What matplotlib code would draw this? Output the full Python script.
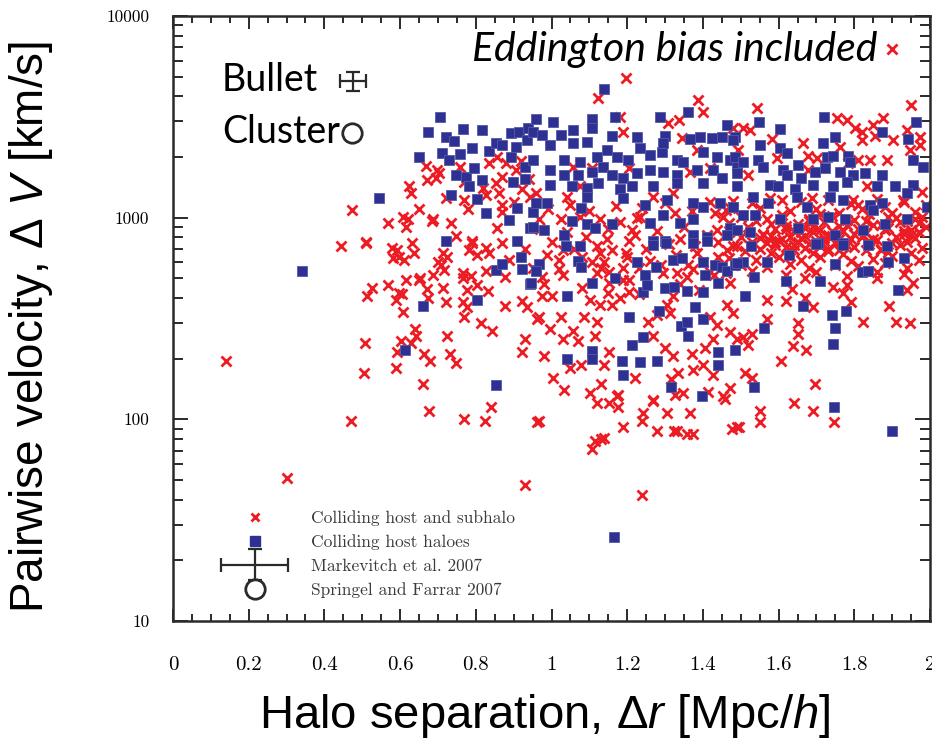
import numpy as np
import matplotlib
matplotlib.use("Agg")
import matplotlib.pyplot as plt
from matplotlib.lines import Line2D
from matplotlib.legend_handler import HandlerErrorbar

plt.rcParams["mathtext.fontset"] = "custom"
plt.rcParams["mathtext.rm"] = "Liberation Sans"
plt.rcParams["mathtext.it"] = "Liberation Sans:italic"

# colliding host and subhalo pairs: separation [Mpc/h], pairwise velocity [km/s]
sub_sep = [
    0.14, 0.30, 0.47, 0.93, 1.238, 1.90,
    0.669, 0.698, 0.672, 0.696, 0.624, 0.630, 0.474, 0.569, 0.608, 0.622,
    0.616, 0.511, 0.444, 0.632, 0.685, 0.735, 0.749, 0.791, 0.857, 0.868,
    0.870, 0.862, 0.870, 0.857, 0.836, 0.854, 0.828, 0.770, 0.923, 0.942,
    0.920, 0.880, 0.907, 0.757,
    0.510, 0.580, 0.611, 0.638, 0.593, 0.526, 0.513, 0.569, 0.606, 0.590,
    0.608, 0.653, 0.672, 0.688, 0.709, 0.714, 0.722, 0.675, 0.640, 0.643,
    0.630, 0.603, 0.593, 0.590, 0.508, 0.505, 0.664, 0.680, 0.725, 0.733,
    0.749, 0.661, 0.677, 0.770, 0.823, 0.839, 0.765, 0.788, 0.804, 0.828,
    0.831, 0.765, 0.770, 0.778, 0.815, 0.844, 0.876, 0.923, 0.934, 0.929,
    0.923, 0.963, 0.836, 0.804, 0.876, 0.889, 0.791, 0.870, 0.725, 0.963,
    0.688, 0.704, 0.828, 0.579, 0.598, 0.714, 0.701, 0.717, 0.616, 0.598,
    0.651, 0.765, 0.778, 0.783,
    1.198, 1.124, 1.386, 1.399, 1.336, 1.307, 1.180, 1.188, 1.344, 1.384,
    1.056, 1.106, 1.206, 1.365, 1.418, 0.960, 1.042, 1.074, 1.267, 1.320,
    1.026, 1.074, 1.127, 1.225, 1.325, 1.431, 1.471, 0.968, 1.146, 1.206,
    1.214, 1.233, 1.339, 1.437, 1.452, 1.489,
    1.542, 1.950, 1.754, 1.780, 1.802, 1.820, 1.820, 1.849, 1.876, 1.854,
    1.902, 1.939, 1.974, 1.974, 1.947, 1.505, 1.524, 1.582, 1.664, 1.677,
    1.762, 1.783, 1.841, 1.886, 1.810, 1.492, 1.519, 1.595, 1.677, 1.701,
    1.577, 1.688, 1.833, 1.796, 1.929, 1.979, 1.479,
    0.974, 1.000, 0.968, 0.995, 1.030, 1.026, 1.056, 1.069, 1.087, 1.101,
    1.119, 1.127, 1.148, 1.161, 1.114, 1.153, 1.140, 1.079, 1.048, 0.979,
    1.003, 1.034, 1.101, 1.132, 1.119, 1.153, 1.175, 1.175, 1.220, 1.267,
    1.241, 1.238, 1.304, 1.365, 1.278, 1.331, 1.357, 1.373, 0.968, 1.188,
    1.140, 1.471, 1.452, 1.476, 1.426, 1.399, 1.373, 1.333, 1.347, 1.320,
    1.299, 1.267, 1.254, 1.278, 1.312, 1.320, 1.304, 1.370, 1.405, 1.426,
    1.437, 1.418, 1.471, 1.479, 1.463, 1.206, 1.180, 1.206, 1.153, 1.108,
    1.127, 1.161, 1.198, 1.188, 0.976, 1.021, 0.989, 1.030, 1.153, 1.357,
    1.373, 1.384, 1.463, 1.471, 1.331, 1.294,
    1.108, 1.114, 1.132, 1.495, 1.550, 1.550, 1.640, 1.690, 1.746, 1.695,
    1.606, 1.672, 1.638, 1.823, 1.910, 1.947, 1.892, 1.458, 1.511, 1.413,
    1.325, 1.267, 1.172, 1.317, 1.323,
    1.570, 1.620, 1.670, 1.690, 1.570, 1.650, 1.650, 1.530, 1.490, 1.940,
    1.955, 1.860, 1.790, 1.770, 1.780, 1.745, 1.635, 1.505, 1.530, 1.490,
    1.520, 1.670,
    1.48, 1.53, 1.61, 1.66, 1.73, 1.79, 1.86, 1.93, 1.99, 1.46,
    1.55, 1.63, 1.70, 1.76, 1.82, 1.88, 1.96, 1.50, 1.57, 1.61,
    1.68, 1.74, 1.78, 1.84, 1.91, 1.94, 1.98, 1.47, 1.54, 1.65,
    1.72, 1.80, 1.87, 1.92, 1.97, 1.52, 1.59, 1.62, 1.67, 1.71,
    1.76, 1.81, 1.85, 1.89, 1.95, 1.99, 1.49, 1.56, 1.64, 1.69,
    1.73, 1.77, 1.83, 1.88, 1.93, 1.97, 1.50, 1.55, 1.58, 1.61,
    1.63, 1.66, 1.70, 1.74, 1.79, 1.82, 1.86, 1.91, 1.96, 1.53,
    1.57, 1.60, 1.65, 1.68, 1.72, 1.75, 1.78, 1.84, 1.90, 1.94,
    1.48, 1.55, 1.59, 1.62, 1.67, 1.71, 1.76, 1.80, 1.87, 1.92,
    1.98, 1.51, 1.58, 1.64, 1.69, 1.73, 1.77, 1.83, 1.89, 1.95,
    1.47, 1.54, 1.60, 1.66, 1.71, 1.79, 1.85, 1.90, 1.97, 1.50,
    1.57, 1.63, 1.68, 1.75, 1.81, 1.88, 1.94, 1.46, 1.53, 1.62,
    1.70, 1.78, 1.86, 1.93,
    1.56, 1.59, 1.62, 1.64, 1.67, 1.69, 1.72, 1.74, 1.77, 1.80,
    1.83, 1.85, 1.88, 1.90, 1.93, 1.96, 1.58, 1.63, 1.68, 1.73,
    1.78, 1.84, 1.89, 1.95, 1.61, 1.66, 1.71, 1.76, 1.81, 1.87,
    0.97, 1.00, 1.04, 1.06, 1.09, 1.12, 1.15, 1.18, 1.22, 1.25,
    1.28, 1.31, 1.35, 1.38, 1.41, 1.44, 0.99, 1.05, 1.10, 1.17,
    1.24, 1.30, 1.37, 1.42, 1.02, 1.08, 1.14, 1.20, 1.26, 1.33,
    1.40, 1.44, 0.93, 0.95, 1.12, 1.23, 1.36, 1.42,
    0.98, 1.03, 1.08, 1.13, 1.19, 1.23, 1.29, 1.34, 1.39, 1.43,
    0.65, 0.72, 0.78, 0.82, 0.90, 0.94, 0.77,
]
sub_vel = [
    194, 51, 98, 47, 42, 6860,
    1800, 1730, 1540, 1570, 1430, 1330, 1090, 940, 1010, 980,
    900, 760, 720, 750, 960, 940, 810, 770, 890, 1070,
    1160, 1330, 1600, 2000, 1870, 1490, 1300, 1230, 1380, 1270,
    1920, 1870, 1730, 1790,
    750, 630, 620, 670, 690, 450, 410, 465, 420, 390,
    340, 500, 445, 520, 580, 450, 380, 400, 280, 260,
    240, 245, 215, 180, 240, 170, 210, 195, 260, 210,
    190, 150, 110, 100, 98, 115, 500, 515, 465, 545,
    435, 380, 320, 360, 300, 275, 365, 385, 360, 250,
    215, 315, 670, 655, 510, 620, 745, 750, 640, 97,
    990, 1670, 710, 710, 640, 670, 600, 550, 490, 425,
    490, 530, 440, 690,
    4930, 3930, 3830, 3350, 3050, 2950, 3160, 2670, 2470, 2170,
    1790, 1770, 1770, 1690, 1770, 1330, 1270, 1430, 1270, 1330,
    980, 1010, 980, 1000, 1060, 1060, 1120, 980, 780, 770,
    870, 1010, 780, 870, 1010, 720,
    3500, 3620, 3130, 3050, 2780, 2670, 2430, 2890, 3130, 2550,
    2430, 2720, 2510, 2300, 2170, 2780, 2720, 2450, 2350, 2030,
    2240, 1870, 1940, 1940, 1940, 2170, 1630, 1970, 1730, 1970,
    1250, 1250, 1430, 1230, 1230, 1340, 2780,
    410, 410, 320, 280, 250, 320, 275, 245, 320, 390,
    305, 370, 425, 370, 260, 215, 185, 185, 180, 205,
    160, 140, 135, 150, 120, 120, 132, 115, 160, 125,
    107, 98, 107, 107, 88, 88, 85, 85, 98, 92,
    81, 143, 130, 90, 165, 185, 175, 170, 135, 205,
    227, 260, 305, 330, 335, 410, 370, 210, 227, 250,
    295, 320, 270, 335, 370, 430, 400, 490, 535, 600,
    670, 690, 670, 565, 510, 555, 655, 690, 475, 510,
    555, 670, 690, 475, 530, 530,
    71, 78, 80, 92, 97, 110, 120, 110, 97, 150,
    195, 220, 232, 305, 305, 300, 365, 126, 170, 137,
    132, 123, 130, 158, 88,
    390, 385, 400, 360, 315, 300, 265, 160, 92, 440,
    475, 500, 380, 425, 465, 455, 445, 255, 265, 250,
    235, 505,
    1210, 1180, 1230, 1190, 1220, 1170, 1240, 1200, 1160, 1090,
    1120, 1080, 1110, 1060, 1100, 1130, 1070, 1010, 980, 1030,
    990, 1020, 970, 1040, 1000, 960, 1010, 940, 960, 930,
    950, 970, 920, 950, 940, 900, 880, 910, 890, 870,
    905, 880, 920, 890, 870, 900, 850, 830, 860, 845,
    820, 855, 840, 865, 830, 850, 800, 790, 815, 780,
    805, 795, 770, 810, 785, 800, 775, 805, 790, 760,
    745, 770, 755, 740, 765, 750, 735, 770, 745, 760,
    720, 700, 735, 715, 705, 725, 690, 715, 700, 730,
    710, 680, 665, 690, 670, 685, 660, 695, 675, 665,
    630, 615, 640, 620, 635, 610, 625, 645, 615, 580,
    570, 590, 560, 585, 575, 595, 565, 530, 545, 520,
    535, 515, 540, 525,
    820, 760, 880, 730, 810, 900, 790, 860, 720, 830,
    960, 780, 880, 1050, 860, 980, 930, 690, 960, 700,
    920, 740, 1010, 820, 980, 850, 1040, 780, 1150, 690,
    880, 760, 850, 700, 800, 720, 880, 950, 820, 700,
    860, 740, 900, 720, 820, 760, 1100, 1150, 1080, 1140,
    1120, 1180, 1080, 1200, 620, 640, 600, 640, 610, 650,
    600, 640, 700, 560, 530, 560, 580, 540,
    470, 520, 450, 560, 490, 420, 580, 470, 440, 520,
    1100, 1250, 1100, 1400, 1200, 1550, 1500,
]

# colliding host haloes
host_sep = [
    0.34, 1.165, 1.90, 0.545,
    0.706, 0.675, 0.765, 0.817, 0.722, 0.743, 0.651, 0.712, 0.757, 0.791,
    0.836, 0.854, 0.870, 0.894, 0.915, 0.937, 0.934, 0.907, 0.894, 0.929,
    0.730, 0.749, 0.775, 0.796, 0.817, 0.783, 0.897, 0.931, 0.735, 0.804,
    0.828, 0.889, 0.910, 0.942, 0.952, 0.720, 0.910,
    0.661, 0.614, 0.802, 0.854, 0.854, 0.870, 0.920, 0.923, 0.942, 0.960,
    1.140, 0.960, 1.005, 1.108, 1.167, 1.286, 1.360, 1.463, 1.056, 0.950,
    0.976, 1.026, 1.108, 1.161, 1.225, 1.299, 1.365, 1.392, 1.423, 1.450,
    1.484, 0.995, 1.056, 1.095, 1.146, 1.172, 1.201, 1.233, 1.259, 1.291,
    1.294, 1.331, 1.347, 1.399, 1.437, 1.471, 0.950, 0.995, 1.032, 1.074,
    1.119, 1.135, 1.032, 1.071, 1.108, 1.161, 1.188, 1.225, 1.259, 1.294,
    1.331, 1.384, 1.426, 1.489, 0.995, 1.053, 1.093, 1.122, 1.180, 1.214,
    1.267, 1.331, 1.399, 1.450, 0.960, 0.987, 1.079, 1.095, 1.188, 1.246,
    1.304, 1.373, 1.399, 1.444, 1.479, 1.053, 1.093, 1.161, 1.259, 1.294,
    1.339, 1.373, 1.471, 0.950, 0.981, 1.034, 1.116, 1.267, 1.299, 1.373,
    1.410, 1.463,
    1.548, 1.603, 1.720, 1.873, 1.963, 1.749, 1.550, 1.603, 1.622, 1.717,
    1.942, 1.479, 1.484, 1.505, 1.545, 1.558, 1.611, 1.651, 1.728, 1.743,
    1.783, 1.788, 1.955, 1.981, 1.489, 1.622, 1.659, 1.696, 1.722, 1.762,
    1.796, 1.828, 1.873, 1.489, 1.577, 1.598, 1.643, 1.690, 1.743, 1.780,
    1.860, 1.907, 1.955, 1.532, 1.571, 1.648, 1.675, 1.735, 1.770, 1.841,
    1.873, 1.939, 1.992, 1.479, 1.505, 1.537, 1.603, 1.690, 1.730, 1.775,
    1.849, 1.881, 1.939, 1.489, 1.524, 1.651, 1.749, 1.823, 1.704, 1.770,
    1.037, 1.074, 0.966, 0.960, 1.069, 1.079, 0.947, 1.040, 1.108, 1.169,
    1.225, 1.267, 1.302, 1.275, 1.246, 1.241, 1.251, 1.299, 1.323, 1.320,
    1.344, 1.357, 1.373, 1.410, 1.399, 1.405, 1.399, 1.431, 1.450, 1.463,
    1.439, 1.484, 1.204, 1.283, 1.378, 1.341, 1.357, 1.399, 1.360, 1.243,
    1.212, 1.108, 1.108, 1.042, 1.185, 1.233, 1.280, 1.188, 1.439, 1.439,
    1.484, 1.317, 1.397,
    1.534, 1.561, 1.741, 1.749, 1.743, 1.778, 1.664, 1.746, 1.510, 1.534,
    1.620, 1.710, 1.570, 1.627, 1.749, 1.820, 1.836, 1.889, 1.931, 1.700,
    1.770, 1.836, 1.886, 1.526, 1.505, 1.489, 1.915,
]
host_vel = [
    545, 26, 88, 1250,
    3160, 2670, 2760, 2730, 2510, 2400, 2000, 2100, 2070, 2220,
    2150, 2350, 2300, 2630, 2660, 2780, 2430, 2250, 2000, 1790,
    1940, 1630, 1600, 1770, 1540, 1430, 1500, 1560, 1290, 1240,
    1060, 970, 1120, 890, 1070, 770, 770,
    365, 220, 390, 148, 550, 590, 640, 555, 470, 550,
    4350, 3090, 2990, 3090, 3160, 3160, 3350, 2890, 2720, 2670,
    2570, 2570, 2780, 2550, 2510, 2550, 2450, 2510, 2470, 2510,
    2510, 2300, 2350, 2380, 2170, 2000, 1940, 2220, 2050, 2120,
    2350, 1940, 1890, 2120, 2000, 1940, 1940, 1730, 1940, 1890,
    2000, 1790, 1630, 1630, 1690, 1630, 1580, 1660, 1730, 1690,
    1630, 1730, 1730, 1790, 1460, 1430, 1410, 1490, 1380, 1430,
    1430, 1490, 1490, 1580, 1180, 1180, 1120, 1270, 1250, 1160,
    1230, 1180, 1130, 1180, 1130, 960, 930, 930, 940, 1030,
    940, 980, 890, 900, 870, 820, 890, 770, 770, 820,
    800, 820,
    2990, 2760, 3160, 2670, 2990, 2510, 2280, 2220, 2100, 2350,
    2450, 2430, 2000, 1890, 1940, 1790, 1730, 1820, 2000, 2030,
    2030, 1890, 1940, 1790, 1660, 1630, 1580, 1690, 1770, 1690,
    1620, 1660, 1630, 1430, 1460, 1430, 1380, 1460, 1430, 1510,
    1430, 1440, 1460, 1270, 1180, 1270, 1130, 1270, 1230, 1160,
    1180, 1330, 1130, 1130, 1030, 1030, 980, 980, 1010, 980,
    1090, 930, 980, 870, 850, 890, 820, 870, 750, 750,
    720, 720, 590, 545, 610, 570, 475, 410, 475, 505,
    600, 735, 750, 570, 520, 430, 465, 450, 455, 620,
    630, 435, 750, 770, 600, 520, 430, 585, 570, 545,
    475, 585, 320, 345, 360, 290, 305, 315, 260, 255,
    235, 218, 200, 200, 195, 192, 195, 165, 215, 185,
    220, 145, 130,
    145, 285, 330, 285, 236, 343, 365, 115, 410, 510,
    483, 483, 605, 655, 591, 537, 545, 600, 630, 740,
    735, 735, 725, 720, 600, 595, 436,
]

# Bullet cluster: Markevitch et al. 2007 and Springel & Farrar 2007
bullet_sep, bullet_vel = 0.476, 4770
bullet_sep_err, bullet_vel_err = 0.035, 500
sf_sep, sf_vel = 0.474, 2630

red = "#EC1C24"
blue = "#2E3192"
frame = "#2a2a2a"

fig = plt.figure(figsize=(9.32, 7.52), dpi=100)
ax = fig.add_axes([173 / 932, 1 - 621 / 752, 757 / 932, 605 / 752])

ax.plot(sub_sep, sub_vel, ls="none", marker="x", ms=7.5, mew=2.0, color=red)
ax.plot(host_sep, host_vel, ls="none", marker="s", ms=7.8, mew=0.6,
        color=blue, mec="#5558a8")

eb = ax.errorbar([bullet_sep], [bullet_vel], xerr=[bullet_sep_err],
                 yerr=[bullet_vel_err], fmt="none", ecolor=frame,
                 elinewidth=1.6, capsize=5, capthick=1.6)
ax.plot([sf_sep], [sf_vel], ls="none", marker="o", ms=14, mfc="none",
        mec=frame, mew=2)

ax.set_yscale("log")
ax.set_xlim(0, 2)
ax.set_ylim(10, 10000)

for side in ax.spines.values():
    side.set_color(frame)
    side.set_linewidth(1.8)

ax.set_xticks(np.arange(0, 2.01, 0.2))
ax.set_xticks(np.arange(0, 2.01, 0.05), minor=True)
ax.set_xticklabels(["0", "0.2", "0.4", "0.6", "0.8", "1", "1.2", "1.4",
                    "1.6", "1.8", "2"], family="cmr10", fontsize=15)
ax.set_yticks([10, 100, 1000, 10000])
ax.set_yticklabels(["10", "100", "1000", "10000"], family="cmr10", fontsize=12.5)
ax.tick_params(axis="both", which="both", direction="in", top=True,
               right=True, color=frame, width=1.4)
ax.tick_params(axis="x", which="major", length=9, pad=25)
ax.tick_params(axis="x", which="minor", length=5)
ax.tick_params(axis="y", which="major", length=11, pad=17)
ax.tick_params(axis="y", which="minor", length=7)

handles = [
    Line2D([], [], ls="none", marker="x", ms=6, mew=2, color=red),
    Line2D([], [], ls="none", marker="s", ms=7, color=blue),
    eb,
    Line2D([], [], ls="none", marker="o", ms=14, mfc="none", mec=frame, mew=2),
]
labels = ["Colliding host and subhalo", "Colliding host haloes",
          "Markevitch et al. 2007", "Springel and Farrar 2007"]
leg = ax.legend(handles, labels, loc="lower left",
                bbox_to_anchor=(0.063, 0.038), frameon=False,
                prop={"family": "cmr10", "size": 12.5},
                handlelength=3.9, handletextpad=1.3, labelspacing=0.48,
                borderpad=0, borderaxespad=0,
                handler_map={type(eb): HandlerErrorbar(xerr_size=1.95,
                                                       yerr_size=0.9)})
for t in leg.get_texts():
    t.set_color("#3a3a3a")

fig.text(31 / 932, 1 - 327 / 752, r"Pairwise velocity, $\Delta\ V$ [km/s]",
         rotation=90, ha="center", va="center", fontsize=33,
         family="Liberation Sans")
fig.text(545 / 932, 1 - 716 / 752, r"Halo separation, $\Delta r$ [Mpc/$h$]",
         ha="center", va="center", fontsize=34, family="Liberation Sans")
fig.text(878 / 932, 1 - 50 / 752, "Eddington bias included", ha="right",
         va="center", fontsize=29.5, style="italic", family="Lato")
fig.text(222 / 932, 1 - 80 / 752, "Bullet", ha="left", va="center",
         fontsize=27, family="Lato")
fig.text(222 / 932, 1 - 132 / 752, "Cluster", ha="left", va="center",
         fontsize=27, family="Lato")

fig.savefig("out.png", dpi=100)
